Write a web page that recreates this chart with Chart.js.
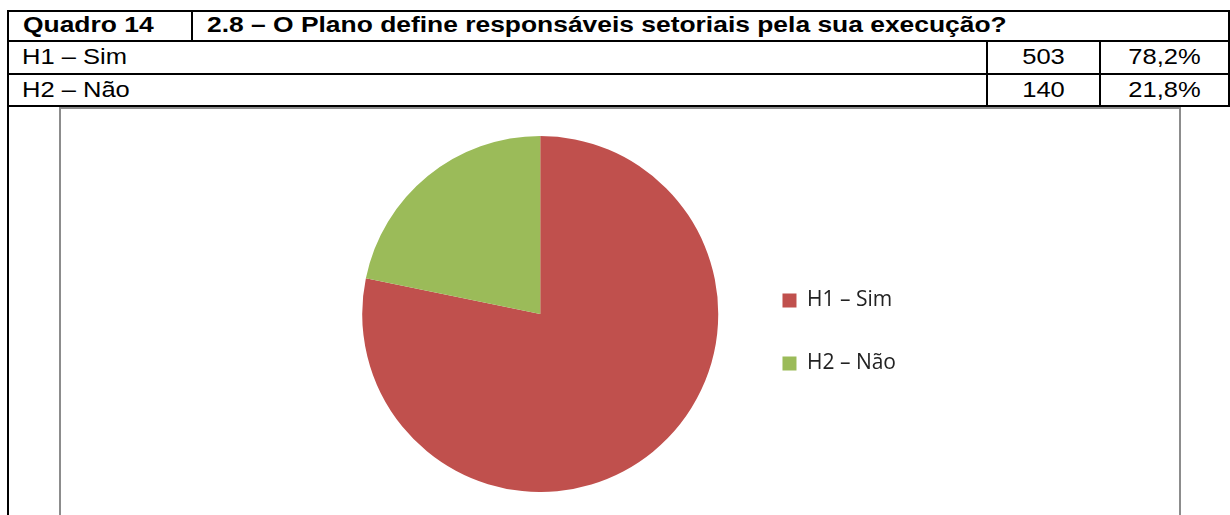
<!DOCTYPE html>
<html>
<head>
<meta charset="utf-8">
<script src="https://cdn.jsdelivr.net/npm/chart.js@4"></script>
<style>
  body { margin: 0; background: #fff; width: 1230px; height: 515px; overflow: hidden; position: relative; font-family: "Liberation Sans", Arial, sans-serif; }
  .ln { position: absolute; background: #000; }
  .txt { position: absolute; font-size: 22px; line-height: 22px; white-space: nowrap; color: #000; transform: scaleX(1.16); transform-origin: left top; }
  .b { font-weight: bold; transform: scaleX(1.2); }
  .ctr { text-align: center; transform-origin: center top; }
  #box { position: absolute; left: 59px; top: 107px; width: 1118px; height: 420px; border: 2px solid #8c8c8c; border-bottom: none; }
  #pieWrap { position: absolute; left: 340px; top: 136px; width: 566px; height: 356px; }
</style>
</head>
<body>
<div id="box"></div>
<div id="pieWrap"><canvas id="pie"></canvas></div>
<div id="table"></div>
<script>
const quadro = 'Quadro 14';
const question = '2.8 – O Plano define responsáveis setoriais pela sua execução?';
const categories = ['H1 – Sim', 'H2 – Não'];
const counts = [503, 140];
const percents = ['78,2%', '21,8%'];
const colors = ['#C0504D', '#9BBB59'];

// table lines
const table = document.getElementById('table');
function line(x, y, w, h) {
    const d = document.createElement('div');
    d.className = 'ln';
    d.style.left = x + 'px'; d.style.top = y + 'px';
    d.style.width = w + 'px'; d.style.height = h + 'px';
    table.appendChild(d);
}
function text(str, x, y, cls, w) {
    const d = document.createElement('div');
    d.className = 'txt ' + (cls || '');
    d.textContent = str;
    d.style.left = x + 'px'; d.style.top = y + 'px';
    if (w) d.style.width = w + 'px';
    table.appendChild(d);
}
line(7, 10, 1223, 2);
line(7, 40, 1223, 2);
line(7, 73, 1223, 2);
line(7, 105, 1223, 2);
line(7, 10, 2, 505);
line(1228, 10, 2, 97);
line(191, 10, 2, 31);
line(986, 41, 2, 65);
line(1099, 41, 2, 65);

text(quadro, 23, 14, 'b');
text(question, 207, 14, 'b');
const rowTops = [46, 79];
categories.forEach((c, i) => {
    text(c, 22, rowTops[i]);
    text(String(counts[i]), 988, rowTops[i], 'ctr', 111);
    text(percents[i], 1101, rowTops[i], 'ctr', 127);
});

new Chart('pie', {
    type: 'pie',
    data: {
        labels: categories,
        datasets: [{
            data: counts,
            backgroundColor: colors,
            borderWidth: 0
        }]
    },
    options: {
        responsive: true,
        maintainAspectRatio: false,
        animation: false,
        plugins: {
            tooltip: { enabled: false },
            legend: {
                position: 'right',
                title: { display: true, text: ' ', padding: 0, font: { size: 30 } },
                labels: {
                    boxWidth: 14,
                    boxHeight: 14,
                    padding: 42,
                    color: '#222',
                    font: { family: 'Open Sans', size: 21 }
                }
            }
        }
    }
});
</script>
</body>
</html>
